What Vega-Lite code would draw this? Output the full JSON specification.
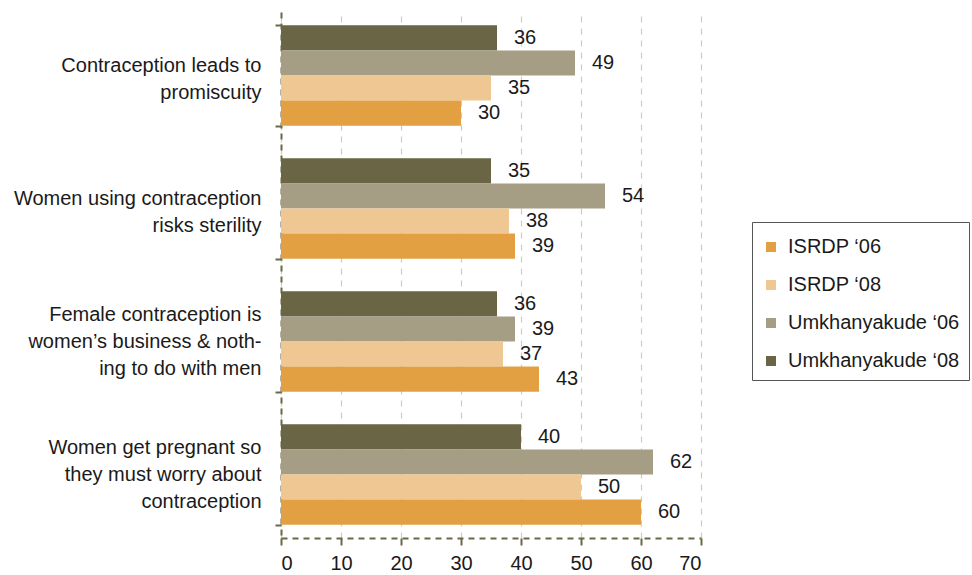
{
  "$schema": "https://vega.github.io/schema/vega-lite/v6.json",
  "width": 420,
  "height": 526,
  "autosize": "none",
  "padding": {"left": 281, "top": 12, "right": 271, "bottom": 37},
  "background": "white",
  "config": {
    "font": "Liberation Sans",
    "view": {"stroke": null}
  },
  "data": {
    "values": [
      {"statement": "Contraception leads to\npromiscuity", "series": "Umkhanyakude ‘08", "pct": 36},
      {"statement": "Contraception leads to\npromiscuity", "series": "Umkhanyakude ‘06", "pct": 49},
      {"statement": "Contraception leads to\npromiscuity", "series": "ISRDP ‘08", "pct": 35},
      {"statement": "Contraception leads to\npromiscuity", "series": "ISRDP ‘06", "pct": 30},
      {"statement": "Women using contraception\nrisks sterility", "series": "Umkhanyakude ‘08", "pct": 35},
      {"statement": "Women using contraception\nrisks sterility", "series": "Umkhanyakude ‘06", "pct": 54},
      {"statement": "Women using contraception\nrisks sterility", "series": "ISRDP ‘08", "pct": 38},
      {"statement": "Women using contraception\nrisks sterility", "series": "ISRDP ‘06", "pct": 39},
      {"statement": "Female contraception is\nwomen’s business & noth-\ning to do with men", "series": "Umkhanyakude ‘08", "pct": 36},
      {"statement": "Female contraception is\nwomen’s business & noth-\ning to do with men", "series": "Umkhanyakude ‘06", "pct": 39},
      {"statement": "Female contraception is\nwomen’s business & noth-\ning to do with men", "series": "ISRDP ‘08", "pct": 37},
      {"statement": "Female contraception is\nwomen’s business & noth-\ning to do with men", "series": "ISRDP ‘06", "pct": 43},
      {"statement": "Women get pregnant so\nthey must worry about\ncontraception", "series": "Umkhanyakude ‘08", "pct": 40},
      {"statement": "Women get pregnant so\nthey must worry about\ncontraception", "series": "Umkhanyakude ‘06", "pct": 62},
      {"statement": "Women get pregnant so\nthey must worry about\ncontraception", "series": "ISRDP ‘08", "pct": 50},
      {"statement": "Women get pregnant so\nthey must worry about\ncontraception", "series": "ISRDP ‘06", "pct": 60}
    ]
  },
  "encoding": {
    "y": {
      "field": "statement",
      "type": "nominal",
      "sort": null,
      "title": null,
      "scale": {"paddingInner": 0.245, "paddingOuter": 0.1},
      "axis": {
        "labelExpr": "split(datum.label, '\\n')",
        "labelFontSize": 20,
        "labelColor": "#1a1a1a",
        "labelLineHeight": 27,
        "labelPadding": 14,
        "labelLimit": 300,
        "labelOffset": {
          "condition": {"test": "length(split(datum.value, '\\n')) > 2", "value": -27},
          "value": -10
        },
        "tickBand": "extent",
        "tickColor": "#6B6848",
        "tickWidth": 2,
        "tickSize": 6,
        "domainColor": "#6B6848",
        "domainWidth": 2,
        "domainDash": [6, 5]
      }
    },
    "yOffset": {
      "field": "series",
      "type": "nominal",
      "sort": ["Umkhanyakude ‘08", "Umkhanyakude ‘06", "ISRDP ‘08", "ISRDP ‘06"]
    },
    "x": {
      "field": "pct",
      "type": "quantitative",
      "title": null,
      "scale": {"domain": [0, 70], "nice": false},
      "axis": {
        "values": [0, 10, 20, 30, 40, 50, 60, 70],
        "labelFontSize": 20,
        "labelColor": "#1a1a1a",
        "labelPadding": 8,
        "grid": true,
        "gridColor": "#CFCBC0",
        "gridDash": [6, 6],
        "gridWidth": 1.2,
        "tickColor": "#6B6848",
        "tickWidth": 2,
        "tickSize": 7,
        "domainColor": "#6B6848",
        "domainWidth": 2,
        "domainDash": [6, 5]
      }
    }
  },
  "layer": [
    {
      "mark": {"type": "bar"},
      "encoding": {
        "color": {
          "field": "series",
          "type": "nominal",
          "scale": {
            "domain": ["ISRDP ‘06", "ISRDP ‘08", "Umkhanyakude ‘06", "Umkhanyakude ‘08"],
            "range": ["#E2A043", "#EEC792", "#A59E85", "#696545"]
          },
          "legend": {
            "title": " ",
            "titleFontSize": 6,
            "titlePadding": 0,
            "orient": "none",
            "legendX": 471,
            "legendY": 210,
            "symbolType": "square",
            "symbolSize": 100,
            "symbolStrokeWidth": 0,
            "labelFontSize": 20,
            "labelColor": "#1a1a1a",
            "labelOffset": 7,
            "labelLimit": 300,
            "rowPadding": 18,
            "padding": 9,
            "strokeColor": "#555555",
            "fillColor": "white"
          }
        }
      }
    },
    {
      "mark": {
        "type": "text",
        "align": "left",
        "baseline": "middle",
        "dx": 17,
        "fontSize": 20,
        "color": "#1a1a1a"
      },
      "encoding": {
        "text": {"field": "pct", "type": "quantitative"}
      }
    }
  ]
}
